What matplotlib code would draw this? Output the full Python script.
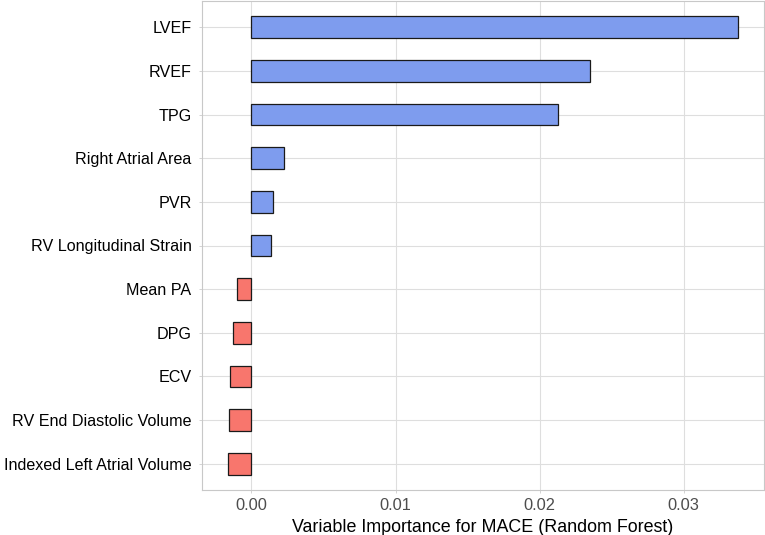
import matplotlib
matplotlib.use("Agg")
import matplotlib.pyplot as plt

variables = ["LVEF", "RVEF", "TPG", "Right Atrial Area", "PVR", "RV Longitudinal Strain",
             "Mean PA", "DPG", "ECV", "RV End Diastolic Volume", "Indexed Left Atrial Volume"]
importance = [0.0338, 0.0235, 0.0213, 0.00227, 0.0015, 0.00137,
              -0.00099, -0.00125, -0.0015, -0.00157, -0.00166]
x_ticks = [0.00, 0.01, 0.02, 0.03]
x_tick_labels = ["0.00", "0.01", "0.02", "0.03"]

plt.rcParams['font.family'] = ['Liberation Sans', 'DejaVu Sans']

fig = plt.figure(figsize=(7.65, 5.35), dpi=100)
ax = fig.add_axes([202/765, 1 - 490/535, (764-202)/765, 490/535 - 1/535])

n = len(variables)
ypos = list(range(n, 0, -1))
colors = ["#7E9CEE" if v >= 0 else "#F8766D" for v in importance]
ax.barh(ypos, importance, height=0.5, color=colors, edgecolor="#1a1a1a", linewidth=0.9, zorder=3)

span = max(importance) - min(importance)
ax.set_xlim(min(importance) - 0.05*span, max(importance) + 0.05*span)
ax.set_ylim(0.4, n + 0.6)

ax.set_yticks(ypos)
ax.set_yticklabels(variables, fontsize=11.6, color="black")
ax.set_xticks(x_ticks)
ax.set_xticklabels(x_tick_labels, fontsize=11.8, color="#4D4D4D")
ax.tick_params(axis='both', length=2.5, width=0.6, color="#cccccc")
ax.tick_params(axis='y', pad=5.0)
ax.tick_params(axis='x', pad=3.5)

ax.grid(True, color="#dedede", linewidth=0.8, zorder=0)
ax.set_axisbelow(True)
for s in ax.spines.values():
    s.set_color("#c8c8c8")
    s.set_linewidth(0.8)

ax.set_xlabel("Variable Importance for MACE (Random Forest)", fontsize=12.9, color="black", labelpad=4)

fig.savefig("out.png", dpi=100)
